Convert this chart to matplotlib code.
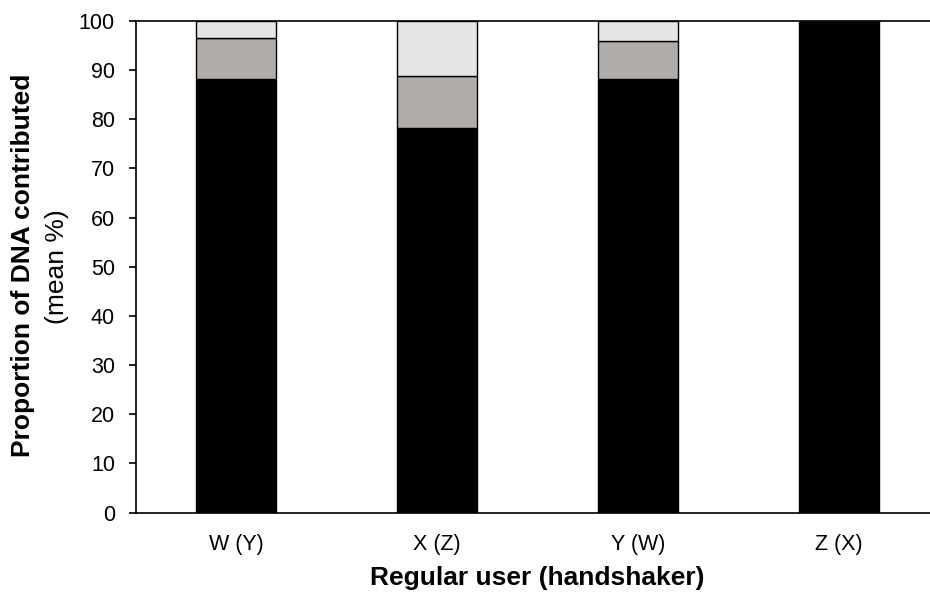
import numpy as np
import matplotlib
matplotlib.use("Agg")
import matplotlib.pyplot as plt

plt.rcParams['font.family'] = ['Liberation Sans', 'DejaVu Sans']

# mean % of DNA contributed, per regular user (handshaker)
categories = ["W (Y)", "X (Z)", "Y (W)", "Z (X)"]
regular_user = [88.1, 78.2, 88.2, 100.0]
handshaker = [8.4, 10.6, 7.6, 0.0]
unknown = [3.5, 11.2, 4.2, 0.0]

fig = plt.figure(figsize=(9.3, 5.92), dpi=100)
ax = fig.add_axes([0.146, 0.134, 0.864, 0.831])

x = np.arange(len(categories))
w = 0.40
ax.bar(x, regular_user, width=w, color='black', edgecolor='black', linewidth=1)
ax.bar(x, handshaker, width=w, bottom=regular_user, color='#b0acaa',
       edgecolor='black', linewidth=1)
bottom2 = np.array(regular_user) + np.array(handshaker)
ax.bar(x, unknown, width=w, bottom=bottom2, color='#e6e6e6',
       edgecolor='black', linewidth=1)

ax.set_xlim(-0.5, 3.5)
ax.set_ylim(0, 100)
ax.set_yticks(np.arange(0, 101, 10))
ax.set_xticks(x)
ax.set_xticklabels(categories)
ax.tick_params(axis='y', direction='out', length=5, width=1.2, labelsize=15.5, pad=10)
ax.tick_params(axis='x', length=0, labelsize=15.5, pad=15)

for s in ['left', 'bottom', 'top']:
    ax.spines[s].set_linewidth(1.2)
ax.spines['right'].set_visible(False)

ax.set_xlabel("Regular user (handshaker)", fontsize=19, fontweight='bold', labelpad=8)

fig.text(0.025, 0.552, "Proportion of DNA contributed", rotation=90, fontsize=19,
         fontweight='bold', ha='center', va='center')
fig.text(0.061, 0.55, "(mean %)", rotation=90, fontsize=19, ha='center', va='center')

fig.savefig("out.png", dpi=100)
